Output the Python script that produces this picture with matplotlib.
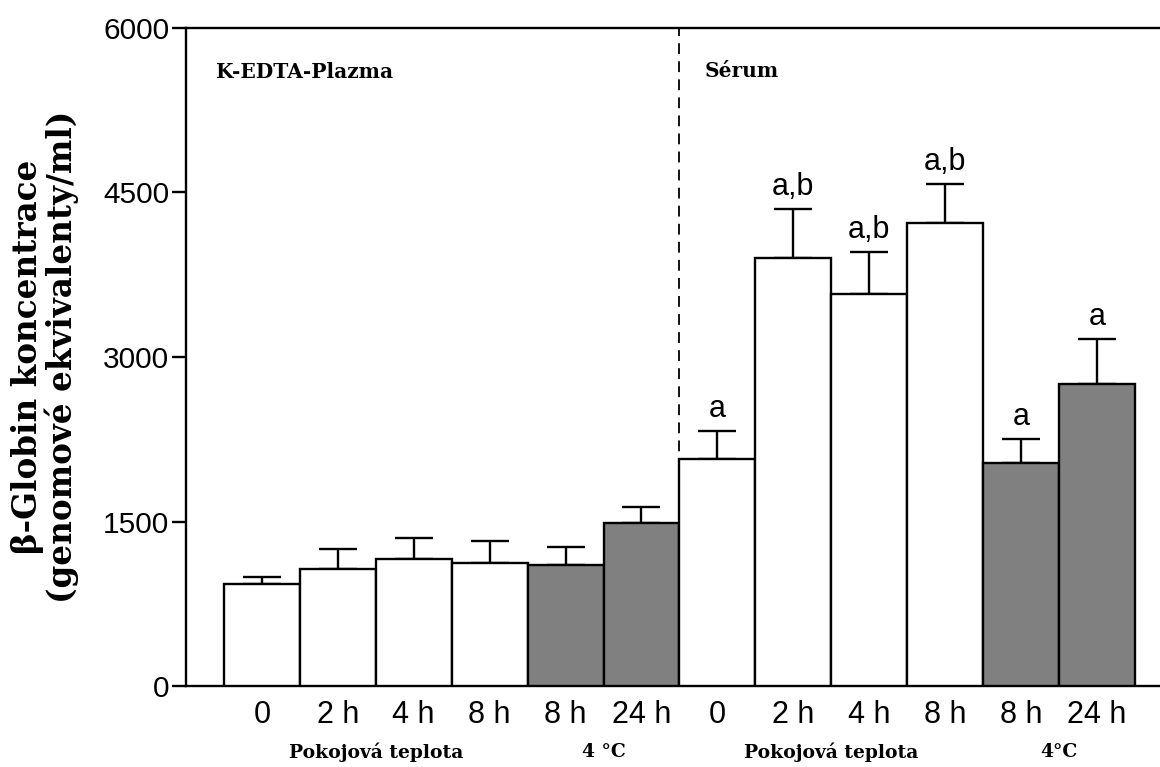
import matplotlib
matplotlib.use("Agg")
import matplotlib.pyplot as plt
import numpy as np

# time points under each bar
labels = ["0", "2 h", "4 h", "8 h", "8 h", "24 h", "0", "2 h", "4 h", "8 h", "8 h", "24 h"]
means = [930, 1065, 1158, 1120, 1105, 1486, 2070, 3903, 3574, 4222, 2033, 2750]
errors = [65, 181, 191, 205, 165, 146, 255, 446, 383, 355, 219, 414]
cold = [False, False, False, False, True, True, False, False, False, False, True, True]
marks = ["", "", "", "", "", "", "a", "a,b", "a,b", "a,b", "a", "a"]

groups = ["Pokojová teplota", "4 °C", "Pokojová teplota", "4°C"]
group_bars = [(0, 3), (4, 5), (6, 9), (10, 11)]
panels = ["K-EDTA-Plazma", "Sérum"]

sans = "Liberation Sans"
serif = "DejaVu Serif"

fig = plt.figure(figsize=(11.6, 7.67), dpi=100)
ax = fig.add_axes([0.1603, 0.1056, 0.8397, 0.8579])

x = np.arange(len(means))
colors = ["#808080" if c else "white" for c in cold]

# dashed separator between plasma and serum
ax.axvline(5.5, color="black", lw=1.3, ls=(0, (6, 4)), zorder=1)

ax.bar(x, means, width=1.0, color=colors, edgecolor="black", linewidth=1.7, zorder=3)
ax.errorbar(x, means, yerr=[np.zeros(len(means)), errors], fmt="none",
            ecolor="black", elinewidth=1.7, capsize=14, capthick=1.7, zorder=2)

for xi, m, e, t in zip(x, means, errors, marks):
    if t:
        ax.annotate(t, (xi, m + e), xytext=(0, 5), textcoords="offset points",
                    ha="center", va="bottom", fontsize=22, family=sans)

ax.set_xlim(-1.0, 11.83)
ax.set_ylim(0, 6000)
ax.set_yticks([0, 1500, 3000, 4500, 6000])
ax.set_xticks(x)
ax.set_xticklabels(labels)
ax.tick_params(axis="x", length=0, pad=10, labelsize=22)
ax.tick_params(axis="y", length=10, width=1.7, pad=2, labelsize=21.5)
for lab in ax.get_xticklabels() + ax.get_yticklabels():
    lab.set_family(sans)

for side in ["left", "bottom", "top"]:
    ax.spines[side].set_linewidth(1.7)
ax.spines["right"].set_visible(False)

ax.set_ylabel("β-Globin koncentrace\n(genomové ekvivalenty/ml)", fontsize=23.5,
              family=serif, fontweight="bold", linespacing=1.0)
ax.yaxis.set_label_coords(-0.11, 0.5)

ax.text(0.031, 0.933, panels[0], transform=ax.transAxes, fontsize=14.5,
        family=serif, fontweight="bold", va="center", ha="left")
ax.text(5.83, 0.935, panels[1], transform=ax.get_xaxis_transform(), fontsize=14.5,
        family=serif, fontweight="bold", va="center", ha="left")

for name, (a, b) in zip(groups, group_bars):
    ax.text((a + b) / 2, -0.1, name, transform=ax.get_xaxis_transform(),
            fontsize=13.5, family=serif, fontweight="bold", ha="center", va="center")

fig.savefig("out.png", dpi=100)
